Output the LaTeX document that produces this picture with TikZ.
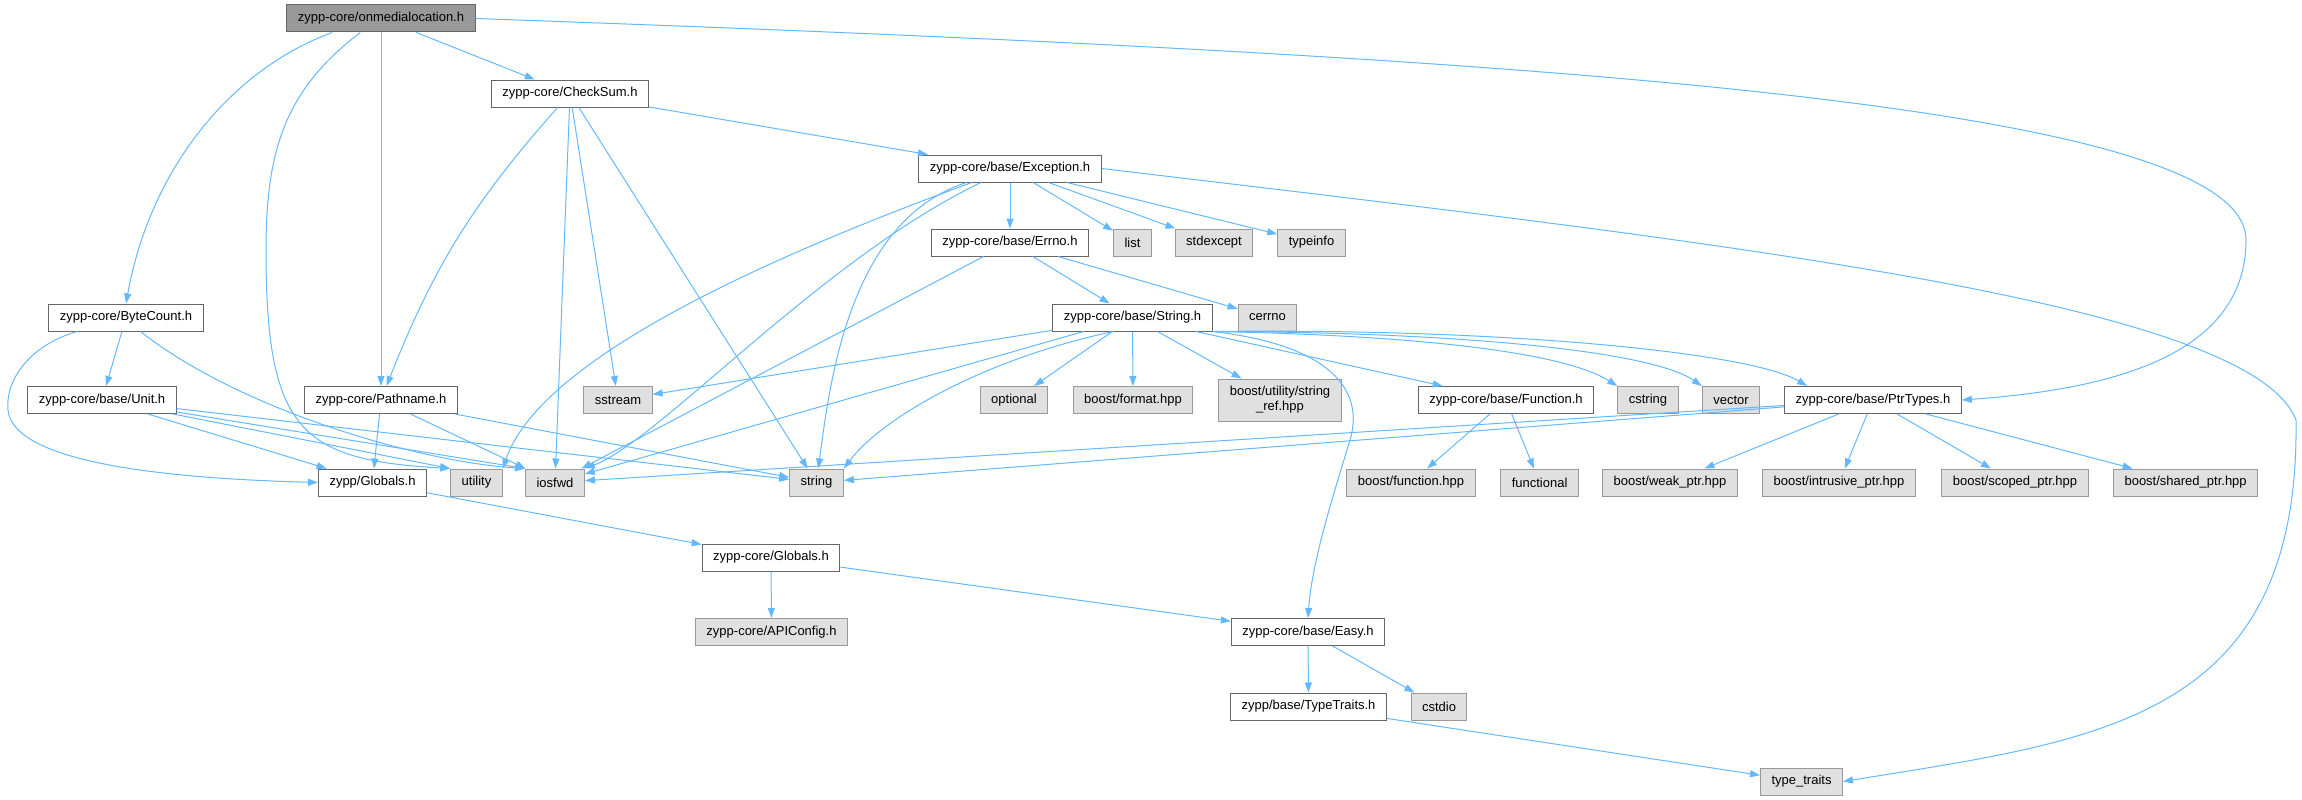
\documentclass[tikz,border=0pt]{standalone}
\usepackage{fontspec}
\setmainfont{Liberation Sans}
\usepackage{xcolor}
\usetikzlibrary{arrows.meta}

\definecolor{edgeblue}{HTML}{63B8FF}
\definecolor{rootgray}{HTML}{999999}
\definecolor{boxline}{HTML}{666666}
\definecolor{sysfill}{HTML}{E0E0E0}
\definecolor{sysline}{HTML}{999999}

\begin{document}
\begin{tikzpicture}[x=1pt, y=-1pt,
    header/.style={draw=boxline, fill=white, line width=1pt, minimum height=27pt,
      inner xsep=11pt, inner ysep=2pt, font=\fontsize{13}{15}\selectfont},
    mainheader/.style={header, fill=rootgray},
    stdheader/.style={header, draw=sysline, fill=sysfill},
    incl/.style={edgeblue, line width=1pt, -{Triangle[length=10pt,width=7pt]}}]
    \useasboundingbox (0,0) rectangle (2302,800);

    % Draw the headers
    \node[mainheader] (root) at (381,18.5) {zypp-core/onmedialocation.h};
    \node[header] (checksum) at (570,93.5) {zypp-core/CheckSum.h};
    \node[header] (bytecount) at (126,317.5) {zypp-core/ByteCount.h};
    \node[header] (unit) at (102,400) {zypp-core/base/Unit.h};
    \node[header] (pathname) at (381,400) {zypp-core/Pathname.h};
    \node[header] (zglobals) at (372.5,482.5) {zypp/Globals.h};
    \node[header] (exception) at (1010,168.5) {zypp-core/base/Exception.h};
    \node[header] (errno) at (1010,242.5) {zypp-core/base/Errno.h};
    \node[header] (strh) at (1132.5,317.5) {zypp-core/base/String.h};
    \node[header] (function) at (1506,400) {zypp-core/base/Function.h};
    \node[header] (ptrtypes) at (1873,400) {zypp-core/base/PtrTypes.h};
    \node[header] (cglobals) at (771,557.5) {zypp-core/Globals.h};
    \node[header] (easy) at (1308,632) {zypp-core/base/Easy.h};
    \node[header] (typetraits) at (1308.5,706.5) {zypp/base/TypeTraits.h};

    % Draw the system headers
    \node[stdheader] (sstream) at (618,400) {sstream};
    \node[stdheader] (utility) at (476.5,482.5) {utility};
    \node[stdheader] (iosfwd) at (555,482.5) {iosfwd};
    \node[stdheader] (string) at (816.5,482.5) {string};
    \node[stdheader] (list) at (1132.5,242.5) {list};
    \node[stdheader] (stdexcept) at (1214,242.5) {stdexcept};
    \node[stdheader] (typeinfo) at (1311.5,242.5) {typeinfo};
    \node[stdheader] (cerrno) at (1267.5,317.5) {cerrno};
    \node[stdheader] (optional) at (1014,400) {optional};
    \node[stdheader] (format) at (1133,400) {boost/format.hpp};
    \node[stdheader, minimum height=42pt, align=center] (stringref) at (1280,400) {boost/utility/string\\\_ref.hpp};
    \node[stdheader] (cstring) at (1648,400) {cstring};
    \node[stdheader] (vector) at (1731,400) {vector};
    \node[stdheader] (bfunction) at (1411,482.5) {boost/function.hpp};
    \node[stdheader] (functional) at (1539.6,482.5) {functional};
    \node[stdheader] (weakptr) at (1670,482.5) {boost/weak\_ptr.hpp};
    \node[stdheader] (intrusiveptr) at (1839,482.5) {boost/intrusive\_ptr.hpp};
    \node[stdheader] (scopedptr) at (2015,482.5) {boost/scoped\_ptr.hpp};
    \node[stdheader] (sharedptr) at (2185.6,482.5) {boost/shared\_ptr.hpp};
    \node[stdheader] (apiconfig) at (771.5,632) {zypp-core/APIConfig.h};
    \node[stdheader] (cstdio) at (1439,706.5) {cstdio};
    \node[stdheader] (stdtraits) at (1801.5,781.5) {type\_traits};

    % Includes of onmedialocation.h
    \draw[incl] (root.196) .. controls (230,70) and (150,170) .. (bytecount.north);
    \draw[incl] (root.214) .. controls (285,90) and (266,150) .. (266,250)
        .. controls (266,430) and (300,460) .. (utility.north west);
    \draw[incl] (root) -- (pathname);
    \draw[incl] (root) -- (checksum);
    \draw[incl] (root.east) .. controls (1500,55) and (2246,100) .. (2246,240)
        .. controls (2246,360) and (2100,390) .. (ptrtypes.east);

    % Includes of CheckSum.h
    \draw[incl] (checksum) to[bend right=10] (pathname);
    \draw[incl] (checksum) -- (iosfwd);
    \draw[incl] (checksum) -- (sstream);
    \draw[incl] (checksum) -- (string);
    \draw[incl] (checksum) -- (exception);

    % Includes of ByteCount.h and Unit.h
    \draw[incl] (bytecount) -- (unit);
    \draw[incl] (bytecount.196) .. controls (30,345) and (5,380) .. (8,410)
        .. controls (13,460) and (150,478) .. (zglobals.west);
    \draw[incl] (bytecount.-44) .. controls (240,410) and (420,462) .. (iosfwd.north west);
    \draw[incl] (unit) -- (zglobals);
    \draw[incl] (unit) -- (utility.north west);
    \draw[incl] (unit) -- (iosfwd.north west);
    \draw[incl] (unit) -- (string);

    % Includes of Pathname.h
    \draw[incl] (pathname) -- (zglobals);
    \draw[incl] (pathname) -- (iosfwd);
    \draw[incl] (pathname) -- (string);

    % Globals chain
    \draw[incl] (zglobals) -- (cglobals);
    \draw[incl] (cglobals) -- (apiconfig);
    \draw[incl] (cglobals) -- (easy);
    \draw[incl] (easy) -- (typetraits);
    \draw[incl] (easy) -- (cstdio);
    \draw[incl] (typetraits) -- (stdtraits);

    % Includes of Exception.h
    \draw[incl] (exception) .. controls (760,260) and (540,360) .. (utility.north east);
    \draw[incl] (exception) .. controls (820,260) and (660,440) .. (iosfwd.north east);
    \draw[incl] (exception) .. controls (850,220) and (830,380) .. (string);
    \draw[incl] (exception) -- (errno);
    \draw[incl] (exception) -- (list);
    \draw[incl] (exception) -- (stdexcept);
    \draw[incl] (exception) -- (typeinfo);
    \draw[incl] (exception.east) .. controls (1700,240) and (2250,300) .. (2296,420)
        .. controls (2300,720) and (2100,740) .. (stdtraits.east);

    % Includes of Errno.h
    \draw[incl] (errno) -- (iosfwd);
    \draw[incl] (errno) -- (strh);
    \draw[incl] (errno) -- (cerrno);

    % Includes of String.h
    \draw[incl] (strh) -- (sstream);
    \draw[incl] (strh) -- (iosfwd);
    \draw[incl] (strh.216) .. controls (980,360) and (880,420) .. (string.north east);
    \draw[incl] (strh) -- (optional);
    \draw[incl] (strh) -- (format);
    \draw[incl] (strh) -- (stringref);
    \draw[incl] (strh.south east) .. controls (1330,345) and (1365,390) .. (1350,440)
        .. controls (1335,490) and (1312,560) .. (easy.north);
    \draw[incl] (strh) -- (function);
    \draw[incl] (strh.south east) .. controls (1400,335) and (1560,350) .. (cstring.north west);
    \draw[incl] (strh.south east) .. controls (1450,332) and (1650,350) .. (vector.north west);
    \draw[incl] (strh.south east) .. controls (1500,328) and (1750,352) .. (ptrtypes.168);

    % Includes of Function.h and PtrTypes.h
    \draw[incl] (function) -- (bfunction);
    \draw[incl] (function) -- (functional);
    \draw[incl] (ptrtypes) -- (iosfwd);
    \draw[incl] (ptrtypes) -- (string);
    \draw[incl] (ptrtypes) -- (weakptr);
    \draw[incl] (ptrtypes) -- (intrusiveptr);
    \draw[incl] (ptrtypes) -- (scopedptr);
    \draw[incl] (ptrtypes) -- (sharedptr);
\end{tikzpicture}
\end{document}
